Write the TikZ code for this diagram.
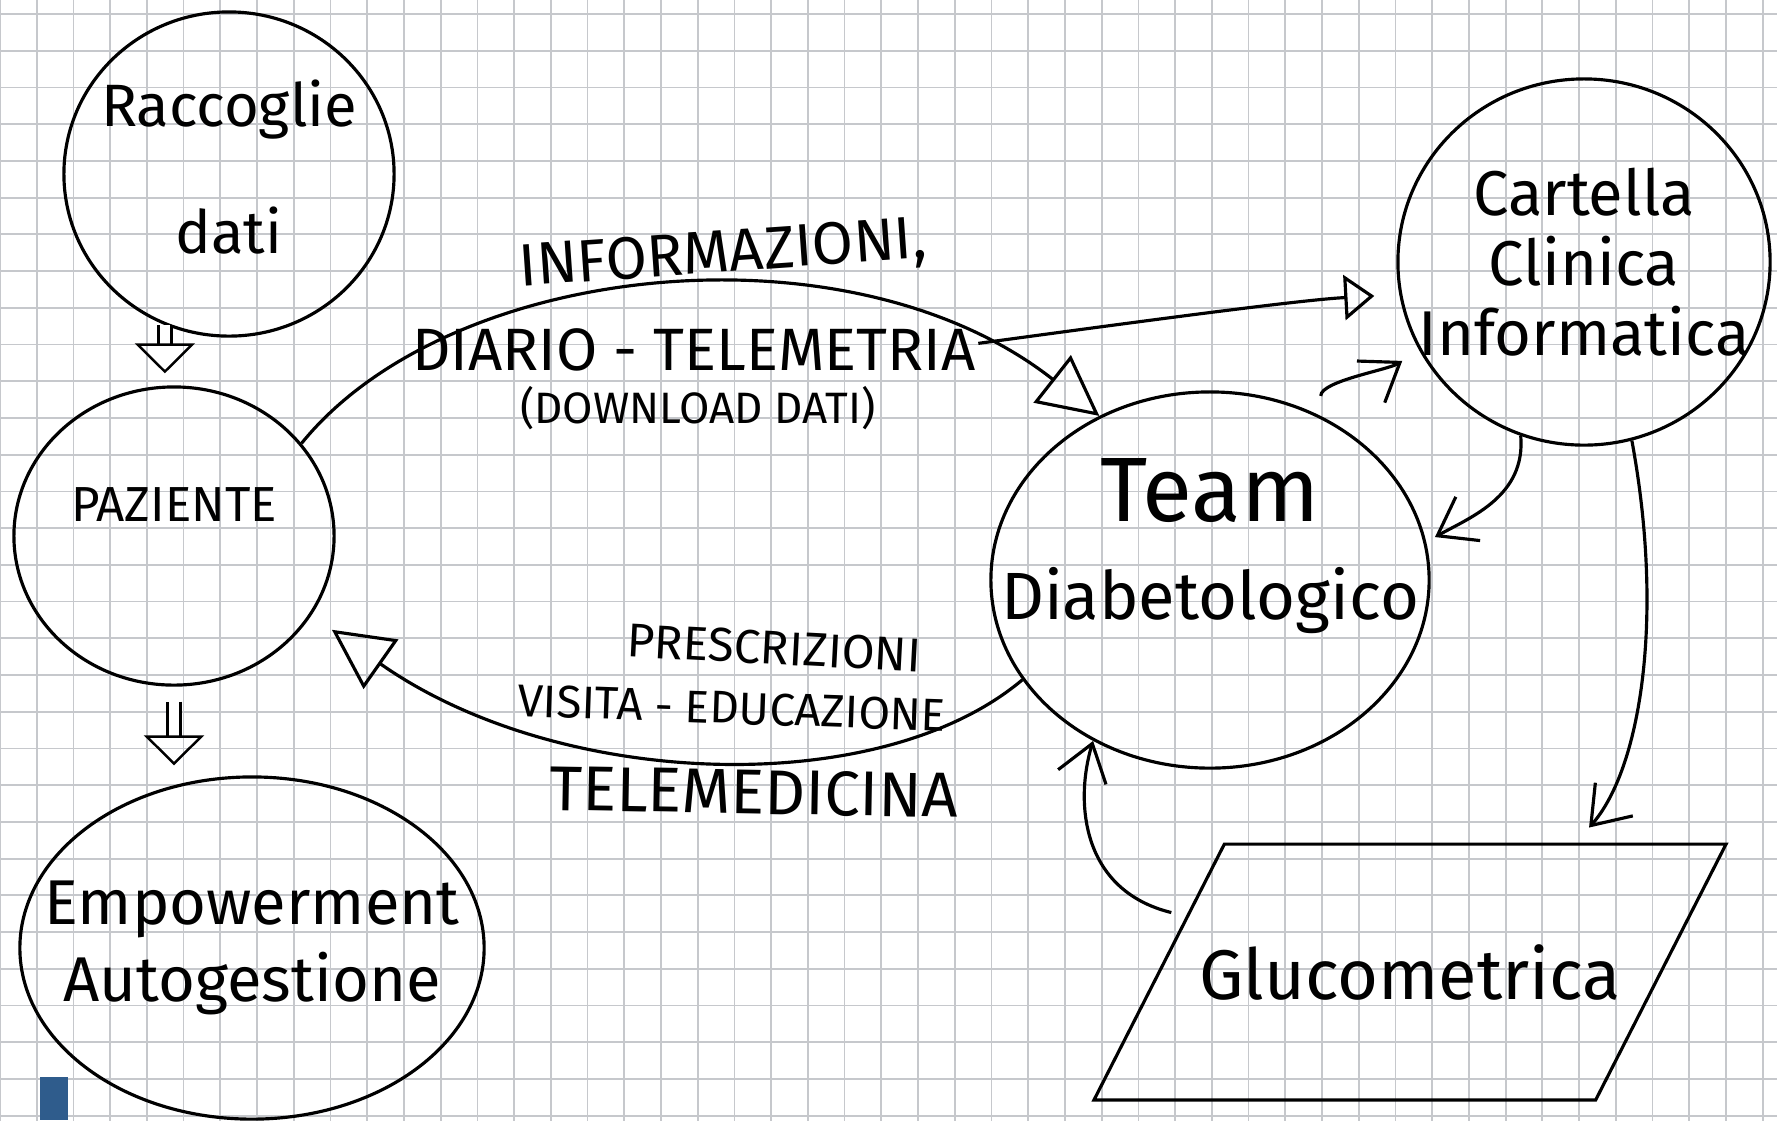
\documentclass[tikz,border=0pt]{standalone}
\usepackage{fontspec}
\setmainfont{Fira Sans}
\usetikzlibrary{positioning,arrows.meta,shapes.geometric}
\definecolor{GridGray}{HTML}{C6C8CC}
\definecolor{ScanBlue}{HTML}{2F5C8C}

\begin{document}
\begin{tikzpicture}[x=0.01cm,y=-0.01cm,line width=0.9pt,
  every node/.style={align=center,inner sep=1pt},
  bubble/.style={draw,ellipse,line width=0.9pt},
  flow/.style={-{Triangle[open,length=6mm,width=6mm]}},
  smallflow/.style={-{Triangle[open,length=3mm,width=4.5mm]}},
  barb/.style={-{Straight Barb[length=3.5mm,width=5mm]}},
  downarrow/.style={double,double distance=3pt,line width=0.7pt,-{Triangle[open,length=3mm,width=6mm]}},
  arclabel/.style={font=\fontsize{17}{19}\selectfont}]
  \useasboundingbox (0,0) rectangle (1777,1120);
  \fill[white] (0,0) rectangle (1777,1120);
  % squared paper
  \begin{scope}
    \clip (0,0) rectangle (1777,1120);
    \draw[GridGray,line width=0.5pt,step=0.367cm,yshift=-0.14cm] (0,-60) grid (1800,1160);
  \end{scope}
  \fill[ScanBlue] (40,1077) rectangle (68,1120);

  % left column
  \node[bubble,minimum width=3.3cm,minimum height=3.24cm,label={[font=\fontsize{17}{36}\selectfont,yshift=0.07cm]center:Raccoglie\\dati}] (racc) at (229,174) {};
  \node[bubble,minimum width=3.2cm,minimum height=2.98cm,label={[font=\fontsize{14}{16}\selectfont,yshift=0.31cm]center:PAZIENTE}] (paz) at (174,536) {};
  \node[bubble,minimum width=4.64cm,minimum height=3.42cm,label={[font=\fontsize{18}{22}\selectfont]center:Empowerment\\Autogestione}] (emp) at (252,948) {};

  % right side
  \node[bubble,minimum width=4.38cm,minimum height=3.76cm,label={[font=\fontsize{19}{28}\selectfont,yshift=0.34cm]center:{\fontsize{26}{28}\selectfont Team}\\Diabetologico}] (team) at (1210,580) {};
  \node[bubble,minimum width=3.72cm,minimum height=3.66cm,label={[font=\fontsize{18}{20}\selectfont]center:Cartella\\Clinica\\Informatica}] (cart) at (1584,262) {};
  \node[draw,trapezium,trapezium left angle=63,trapezium right angle=117,inner xsep=-0.25cm,inner ysep=1cm,font=\fontsize{20}{24}\selectfont] (gluco) at (1410,972) {Glucometrica};

  % arc labels
  \node[arclabel,rotate=4] (info) at (723,256) {INFORMAZIONI,};
  \node[arclabel] (diario) at (694,350) {DIARIO - TELEMETRIA};
  \node[arclabel,font=\fontsize{12.5}{14}\selectfont] (download) at (698,408) {(DOWNLOAD DATI)};
  \node[arclabel,font=\fontsize{13.5}{15}\selectfont,rotate=-3] (prescr) at (774,648) {PRESCRIZIONI};
  \node[arclabel,font=\fontsize{13}{15}\selectfont,rotate=-2] (visita) at (732,708) {VISITA - EDUCAZIONE};
  \node[arclabel,font=\fontsize{18}{20}\selectfont,rotate=-1] (telemed) at (754,792) {TELEMEDICINA};

  % connectors
  \draw[downarrow,shorten >=0.12cm] (racc.-113) -- (racc.-113 |- paz.north);
  \draw[downarrow,shorten <=0.15cm,shorten >=0.1cm] (paz.-90) -- (paz.-90 |- emp.north);
  \draw[flow] (paz.36) .. controls (450,260) and (850,220) .. (team.124) coordinate[pos=0.85] (fork);
  \draw[smallflow,shorten >=0.25cm] (fork) .. controls (1150,320) and (1300,300) .. (cart.190);
  \draw[flow,shorten >=0.25cm] (team.208) .. controls (880,800) and (560,790) .. (paz.-30);
  \draw[barb,shorten <=0.2cm,shorten >=0.2cm] (team.56) .. controls +(0,-35) and +(-30,20) .. (cart.208);
  \draw[barb,shorten >=0.1cm] (cart.250) .. controls +(5,60) and +(45,-25) .. (team.10);
  \draw[barb,shorten >=0.2cm] (cart.285) .. controls (1665,620) and (1640,770) .. (gluco.38);
  \draw[barb,shorten <=0.15cm] (gluco.166) .. controls (1080,890) and (1075,800) .. (team.234);
\end{tikzpicture}
\end{document}
